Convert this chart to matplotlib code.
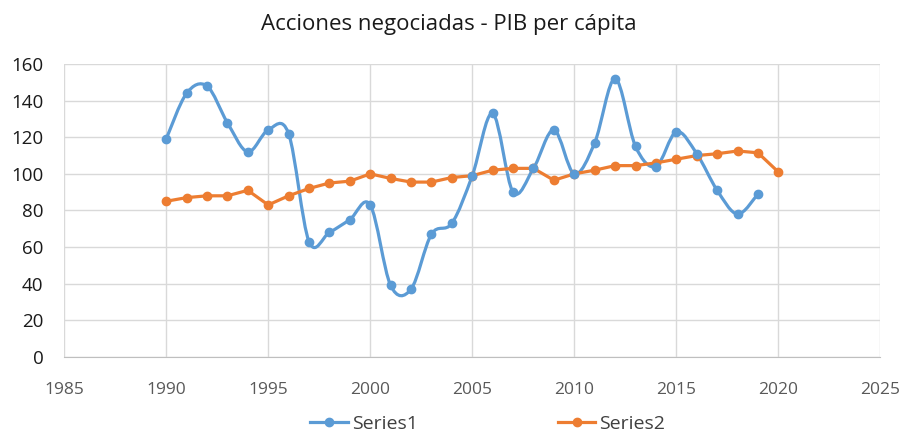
import numpy as np
import matplotlib.pyplot as plt
from matplotlib.path import Path
from matplotlib.patches import PathPatch
from matplotlib.lines import Line2D

plt.rcParams['font.family'] = ['Open Sans', 'DejaVu Sans']

years = list(range(1990, 2021))
series1 = [119, 144, 148, 128, 112, 124, 122, 63, 68, 75, 83, 39, 37, 67, 73,
           99, 133, 90, 103, 124, 100, 117, 152, 115, 104, 123, 111, 91, 78, 89]
series2 = [85, 87, 88, 88, 91, 83, 88, 92, 95, 96, 100, 97.5, 95.5, 95.5, 98,
           99, 102, 103, 103, 96.5, 100, 102, 104.5, 104.5, 106, 108, 110, 111, 112.5, 111.5, 101]

blue = '#5B9BD5'
orange = '#ED7D31'


def smooth_path(x, y):
    # catmull-rom segments as cubic bezier, like excel's smoothed line
    pts = np.column_stack([x, y]).astype(float)
    verts = [pts[0]]
    codes = [Path.MOVETO]
    n = len(pts)
    for i in range(n - 1):
        p0 = pts[i - 1] if i > 0 else pts[i]
        p1 = pts[i]
        p2 = pts[i + 1]
        p3 = pts[i + 2] if i + 2 < n else pts[i + 1]
        verts += [p1 + (p2 - p0) / 6, p2 - (p3 - p1) / 6, p2]
        codes += [Path.CURVE4] * 3
    return Path(verts, codes)


fig = plt.figure(figsize=(9.03, 4.33), dpi=100)
ax = fig.add_axes([0.071, 0.176, 0.904, 0.676])

ax.add_patch(PathPatch(smooth_path(years[:len(series1)], series1), fill=False,
                       edgecolor=blue, lw=2.3, capstyle='round', joinstyle='round', zorder=3))
ax.plot(years[:len(series1)], series1, ls='none', marker='o', ms=6, color=blue, zorder=4)
ax.plot(years, series2, color=orange, lw=2.3, marker='o', ms=6, zorder=3,
        solid_joinstyle='round')

ax.set_xlim(1985, 2025)
ax.set_ylim(0, 160)
ax.set_xticks(range(1985, 2026, 5))
ax.set_yticks(range(0, 161, 20))
ax.grid(color='#d9d9d9', lw=1)
ax.set_axisbelow(True)
for s in ['top', 'right', 'left']:
    ax.spines[s].set_visible(False)
ax.spines['bottom'].set_color('#bfbfbf')
ax.tick_params(axis='x', length=0, labelsize=12.5, labelcolor='#595959', pad=18)
ax.tick_params(axis='y', length=0, labelsize=13.5, labelcolor='#1a1a1a', pad=15)

fig.suptitle('Acciones negociadas - PIB per cápita', x=0.497, y=0.968, fontsize=16, color='#1a1a1a')

handles = [Line2D([], [], color=blue, lw=2.3, marker='o', ms=6),
           Line2D([], [], color=orange, lw=2.3, marker='o', ms=6)]
fig.legend(handles, ['Series1', 'Series2'], loc='center', bbox_to_anchor=(0.540, 0.021),
           ncol=2, frameon=False, fontsize=14, handlelength=1.95, handletextpad=0.2,
           columnspacing=7.2, labelcolor='#404040', borderaxespad=0, borderpad=0.1)

fig.savefig('out.png', dpi=100)
